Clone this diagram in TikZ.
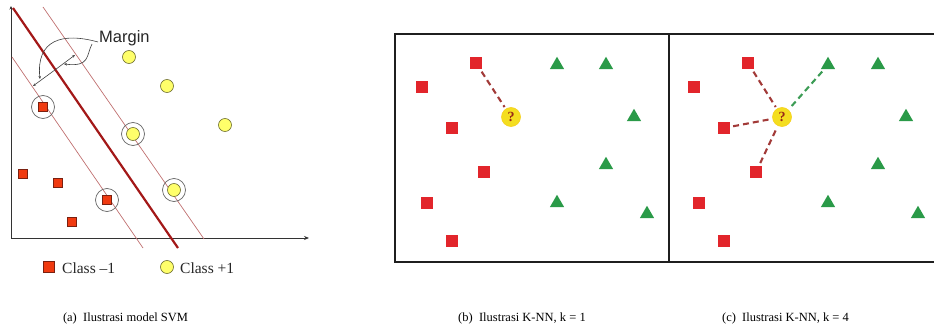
\documentclass[tikz,border=0pt]{standalone}
\usepackage{fontspec}
\setmainfont{Liberation Serif}
\newfontfamily\arialfont{Liberation Sans}
\usetikzlibrary{shapes.geometric,arrows.meta}
\definecolor{svmsq}{HTML}{F03A10}
\definecolor{svmsqd}{HTML}{7A2010}
\definecolor{svmyel}{HTML}{FFFF6A}
\definecolor{svmyeld}{HTML}{6E6E30}
\definecolor{hyper}{HTML}{A31818}
\definecolor{marg}{HTML}{C07070}
\definecolor{knnred}{HTML}{E2252B}
\definecolor{knngreen}{HTML}{2A9A48}
\definecolor{qyel}{HTML}{F4DE20}
\definecolor{qred}{HTML}{9A2A18}
\definecolor{dashred}{HTML}{A23A38}
\definecolor{dashgreen}{HTML}{3C9C55}
\tikzset{
  svmsquare/.style={rectangle, minimum size=8.5, inner sep=0, fill=svmsq, draw=svmsqd, line width=0.6},
  svmcircle/.style={circle, minimum size=13, inner sep=0, fill=svmyel, draw=svmyeld, line width=0.6},
  svring/.style={circle, minimum size=23, inner sep=0, draw=gray!80!black, line width=0.7},
  knnsquare/.style={rectangle, minimum size=12, inner sep=0, fill=knnred},
  knntri/.style={regular polygon, regular polygon sides=3, minimum size=16.5, inner sep=0, fill=knngreen},
  query/.style={circle, minimum size=19, inner sep=0, fill=qyel, draw=qyel!85!orange, line width=0.6, text=qred, font=\bfseries\fontsize{14}{14}\selectfont},
  nnline/.style={dash pattern=on 6 off 4, line width=2.1, shorten <=3, shorten >=2},
  panel/.style={line width=1.9, draw=black!88},
  leader/.style={line width=0.6, draw=black!75},
  caption/.style={font=\fontsize{12.5}{14}\selectfont},
  legtext/.style={font=\fontsize{15.5}{17}\selectfont, anchor=west, inner sep=0, text=black!85}
}
\begin{document}
\begin{tikzpicture}[x=1pt,y=-1pt]
\useasboundingbox (0,0) rectangle (934,329);
\clip (0,0) rectangle (934,329);
% ---------- (a) SVM ----------
\coordinate (ytop) at (11,6);
\coordinate (orig) at (11,238);
\coordinate (xend) at (309,238);
\draw[line width=0.9, black!80, {Stealth[length=3.5pt,width=3pt]}-{Stealth[length=5pt,width=4pt]}] (ytop) -- (orig) -- (xend);
\coordinate (m1a) at (43,7);   \coordinate (m1b) at (204,239);
\coordinate (m2a) at (12,57);  \coordinate (m2b) at (143,248);
\coordinate (ha) at (13,8);    \coordinate (hb) at (178,248);
\draw[marg, line width=0.7] (m1a) -- (m1b);
\draw[marg, line width=0.7] (m2a) -- (m2b);
\draw[hyper, line width=2.2] (ha) -- (hb);
% margin arrows
\coordinate (mc) at (53.5,71);
\coordinate (mlow) at (33,86);
\coordinate (mup) at (75,55);
\draw[leader, -{Stealth[length=3pt,width=2.5pt]}] (mc) -- (mlow);
\draw[leader, -{Stealth[length=3pt,width=2.5pt]}] (mc) -- (mup);
\node[font=\arialfont\fontsize{16.5}{18}\selectfont, anchor=west, inner sep=0, text=black!85] (margin) at (99,38) {Margin};
\coordinate (l1s) at (98,42);
\coordinate (l1e) at (40,79);
\coordinate (l2s) at (92,44);
\coordinate (l2e) at (64,64);
\draw[leader, -{Stealth[length=3pt,width=2.5pt]}] (l1s) .. controls (62,32) and (36,40) .. (l1e);
\draw[leader, -{Stealth[length=3pt,width=2.5pt]}] (l2s) .. controls (86,56) and (90,67) .. (l2e);
% support vector rings
\node[svring] (r1) at (43,107) {};
\node[svring] (r2) at (107,200) {};
\node[svring] (r3) at (133,134) {};
\node[svring] (r4) at (174,190) {};
% class -1
\node[svmsquare] (s1) at (43,107) {};
\node[svmsquare] (s2) at (107,200) {};
\node[svmsquare] (s3) at (23,174) {};
\node[svmsquare] (s4) at (58,183) {};
\node[svmsquare] (s5) at (72,222) {};
% class +1
\node[svmcircle] (c1) at (133,134) {};
\node[svmcircle] (c2) at (174,190) {};
\node[svmcircle] (c3) at (129,57) {};
\node[svmcircle] (c4) at (167,86) {};
\node[svmcircle] (c5) at (225,125) {};
% legend
\node[svmsquare, minimum size=11.5] (legsq) at (49,267) {};
\node[legtext] (legsqt) at (62,268) {Class --1};
\node[svmcircle] (legci) at (167,267) {};
\node[legtext] (legcit) at (180,268) {Class +1};
% ---------- (b) and (c) K-NN ----------
\coordinate (bl) at (395,34);
\coordinate (br) at (941,262);
\coordinate (dt) at (669,34);
\coordinate (db) at (669,262);
\draw[panel] (bl) rectangle (br);
\draw[panel] (dt) -- (db);
% panel b
\node[knnsquare] (b1) at (476,63) {};
\node[knnsquare] (b2) at (422,87) {};
\node[knnsquare] (b3) at (452,128) {};
\node[knnsquare] (b4) at (484,172) {};
\node[knnsquare] (b5) at (427,203) {};
\node[knnsquare] (b6) at (452,241) {};
\node[knntri] (bt1) at (557,65) {};
\node[knntri] (bt2) at (606,65) {};
\node[knntri] (bt3) at (634,117) {};
\node[knntri] (bt4) at (606,165) {};
\node[knntri] (bt5) at (557,203) {};
\node[knntri] (bt6) at (647,214) {};
\node[query] (bq) at (511,117) {?};
\draw[nnline, dashred] (b1) -- (bq);
% panel c
\node[knnsquare] (c1k) at (748,63) {};
\node[knnsquare] (c2k) at (694,87) {};
\node[knnsquare] (c3k) at (724,128) {};
\node[knnsquare] (c4k) at (756,172) {};
\node[knnsquare] (c5k) at (699,203) {};
\node[knnsquare] (c6k) at (724,241) {};
\node[knntri] (ct1) at (828,65) {};
\node[knntri] (ct2) at (878,65) {};
\node[knntri] (ct3) at (906,117) {};
\node[knntri] (ct4) at (878,165) {};
\node[knntri] (ct5) at (828,203) {};
\node[knntri] (ct6) at (918,214) {};
\node[query] (cq) at (782,117) {?};
\draw[nnline, dashred] (c1k) -- (cq);
\draw[nnline, dashred] (c3k) -- (cq);
\draw[nnline, dashred] (c4k) -- (cq);
\draw[nnline, dashgreen] (ct1) -- (cq);
% captions
\node[caption] (capa) at (125.5,318) {(a)\hspace{0.5em}Ilustrasi model SVM};
\node[caption] (capb) at (522,318) {(b)\hspace{0.5em}Ilustrasi K-NN, k = 1};
\node[caption] (capc) at (785.5,318) {(c)\hspace{0.5em}Ilustrasi K-NN, k = 4};
\end{tikzpicture}
\end{document}
